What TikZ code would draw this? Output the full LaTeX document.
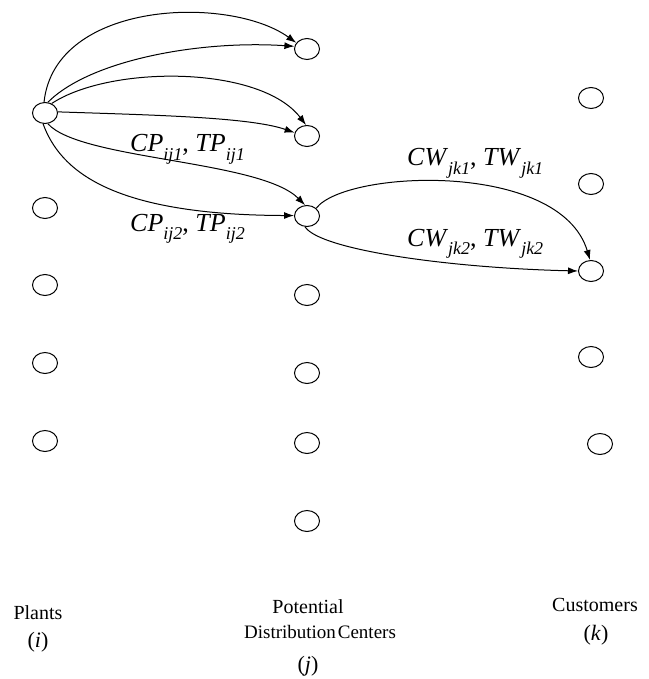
\documentclass[tikz,border=0pt]{standalone}
\usepackage{fontspec}
\setmainfont{Liberation Serif}
\usetikzlibrary{shapes.geometric,arrows.meta}
\newcommand\arclab[2]{\textit{#1}\raisebox{-0.33em}{\fontsize{18}{18}\selectfont\textit{#2}}}
\tikzset{
  loc/.style={draw, ellipse, minimum width=25pt, minimum height=21pt, inner sep=0pt, line width=1pt},
  flow/.style={line width=1pt, -{Latex[length=10pt,width=7pt]}},
  lab/.style={font=\fontsize{26}{28}\selectfont, inner sep=0pt, anchor=base west},
  captxt/.style={font=\fontsize{20}{22}\selectfont, inner sep=0pt, anchor=base},
}
\begin{document}
\begin{tikzpicture}[x=1pt,y=-1pt]
\useasboundingbox (0,0) rectangle (648,679);
% plants
\node[loc] (p1) at (45,113) {};
\node[loc] (p2) at (45,208) {};
\node[loc] (p3) at (45,285) {};
\node[loc] (p4) at (45,363) {};
\node[loc] (p5) at (45,441) {};
% distribution centers
\node[loc] (d1) at (307,49) {};
\node[loc] (d2) at (307,136) {};
\node[loc] (d3) at (307,216) {};
\node[loc] (d4) at (307,295) {};
\node[loc] (d5) at (307,373) {};
\node[loc] (d6) at (307,443) {};
\node[loc] (d7) at (307,521) {};
% customers
\node[loc] (c1) at (591,98) {};
\node[loc] (c2) at (591,184) {};
\node[loc] (c3) at (591,271) {};
\node[loc] (c4) at (591,357) {};
\node[loc] (c5) at (600,444) {};
% flows plants -> DCs
\draw[flow] (p1.95) .. controls (55,0) and (230,-5) .. (d1.150);
\draw[flow] (p1.75) .. controls (90,60) and (200,40) .. (d1.168);
\draw[flow] (p1.55) .. controls (110,65) and (260,65) .. (d2.95);
\draw[flow] (p1.5) .. controls (150,115) and (250,117) .. (d2.165);
\draw[flow] (p1.-75) .. controls (80,160) and (260,160) .. (d3.100);
\draw[flow] (p1.-100) .. controls (60,170) and (110,215) .. (d3.178);
% flows DC -> customer
\draw[flow] (d3.40) .. controls (345,170) and (560,160) .. (c3.95);
\draw[flow] (d3.-100) .. controls (320,250) and (450,268) .. (c3.180);
% arc labels
\node[lab] (l1) at (130,152) {\arclab{CP}{ij1}, \arclab{TP}{ij1}};
\node[lab] (l2) at (130,231) {\arclab{CP}{ij2}, \arclab{TP}{ij2}};
\node[lab] (l3) at (407,166) {\arclab{CW}{jk1}, \arclab{TW}{jk1}};
\node[lab] (l4) at (407,246) {\arclab{CW}{jk2}, \arclab{TW}{jk2}};
% captions
\node[captxt] (t1) at (38,619) {Plants};
\node[captxt, font=\fontsize{22}{24}\selectfont] (t2) at (38,647) {(\textit{i})};
\node[captxt] (t3) at (308,613) {Potential};
\node[captxt, font=\fontsize{19}{22}\selectfont] (t4) at (320,638) {Distribution\hspace{0.1em}Centers};
\node[captxt, font=\fontsize{22}{24}\selectfont] (t5) at (308,671) {(\textit{j})};
\node[captxt] (t6) at (595,611) {Customers};
\node[captxt, font=\fontsize{22}{24}\selectfont] (t7) at (596,640) {(\textit{k})};
\end{tikzpicture}
\end{document}
